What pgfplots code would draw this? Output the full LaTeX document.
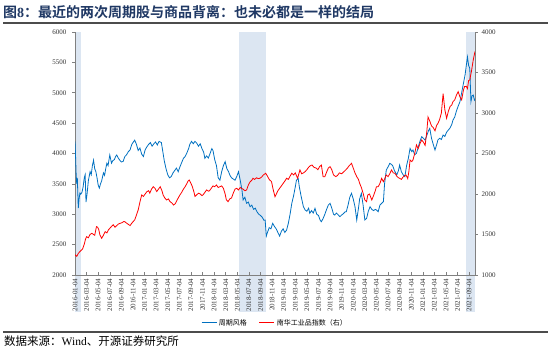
\documentclass[border=0pt]{standalone}
\usepackage{pgfplots}
\pgfplotsset{compat=1.18}
\usepackage{fontspec}
\setmainfont{Liberation Serif}
\newfontfamily\cjk{Noto Sans CJK SC}[BoldFont={Noto Sans CJK SC Bold}]
\definecolor{serblue}{RGB}{0,112,192}
\definecolor{serred}{RGB}{255,0,0}
\definecolor{bandcol}{RGB}{220,230,242}
\definecolor{titleblue}{RGB}{31,56,100}
\definecolor{axgray}{RGB}{128,128,128}
\begin{document}
\begin{tikzpicture}[x=1pt,y=1pt]
\path[use as bounding box] (0,0) rectangle (550,352);
% shaded periods
\begin{axis}[at={(75pt,77pt)},anchor=south west,scale only axis,width=400pt,height=243pt,
  xmin=0,xmax=69,ymin=2000,ymax=6000,axis lines=none,clip=false]
\addplot[fill=bandcol,draw=none] coordinates {(0,1390) (1.0,1390) (1.0,6000) (0,6000)} -- cycle;
\addplot[fill=bandcol,draw=none] coordinates {(28.3,1390) (32.9,1390) (32.9,6000) (28.3,6000)} -- cycle;
\addplot[fill=bandcol,draw=none] coordinates {(67.4,1390) (69,1390) (69,6000) (67.4,6000)} -- cycle;
\end{axis}
% left axis: cyclical style
\begin{axis}[at={(75pt,77pt)},anchor=south west,scale only axis,width=400pt,height=243pt,
  xmin=0,xmax=69,ymin=2000,ymax=6000,
  axis x line*=bottom, axis y line*=left,
  axis line style={draw=axgray,line width=0.6pt},
  every tick/.style={draw=axgray,line width=0.5pt},
  major tick length=3pt, xtick align=inside, ytick align=outside,
  xtick={0,2,...,68},
  xticklabels={2016-01-04,2016-03-04,2016-05-04,2016-07-04,2016-09-04,2016-11-04,
    2017-01-04,2017-03-04,2017-05-04,2017-07-04,2017-09-04,2017-11-04,
    2018-01-04,2018-03-04,2018-05-04,2018-07-04,2018-09-04,2018-11-04,
    2019-01-04,2019-03-04,2019-05-04,2019-07-04,2019-09-04,2019-11-04,
    2020-01-04,2020-03-04,2020-05-04,2020-07-04,2020-09-04,2020-11-04,
    2021-01-04,2021-03-04,2021-05-04,2021-07-04,2021-09-04},
  x tick label style={rotate=90,anchor=east,font=\fontsize{7}{8}\selectfont,text=black!80},
  ytick={2000,2500,...,6000},
  y tick label style={font=\fontsize{7}{8}\selectfont,text=black!80,xshift=-2pt},
  scaled y ticks=false,
  /pgf/number format/assume math mode=true,
  /pgf/number format/1000 sep={},
]
\addplot[serblue,line width=0.8pt] coordinates {
(0.0,4200) (0.1,3950) (0.2,3650) (0.3,3500) (0.4,3600) (0.5,3300) (0.57,3100) (0.7,3250) (0.85,3350)
(1.0,3330) (1.2,3360) (1.4,3450) (1.6,3600) (1.75,3650) (1.9,3200) (2.1,3350) (2.3,3550) (2.6,3700)
(2.8,3650) (3.0,3800) (3.2,3890) (3.4,3750) (3.6,3700) (3.8,3600) (4.0,3480) (4.2,3430) (4.4,3500)
(4.6,3550) (4.9,3680) (5.1,3640) (5.3,3750) (5.5,3840) (5.7,3800) (6.0,3975) (6.3,3840) (6.5,3880)
(6.8,3900) (7.0,3950) (7.2,3975) (7.5,3920) (7.8,3880) (8.0,3860) (8.3,3870) (8.6,3950) (8.9,3980)
(9.2,4030) (9.5,4060) (9.8,4150) (10.0,4180) (10.3,4220) (10.6,4150) (10.9,4050) (11.2,4090) (11.5,3990)
(11.8,3950) (12.1,4060) (12.4,4110) (12.7,4150) (13.0,4180) (13.3,4120) (13.6,4160) (13.9,4190) (14.2,4140)
(14.5,4200) (14.9,4180) (15.2,4000) (15.4,3880) (15.7,3750) (16.0,3650) (16.3,3600) (16.6,3620) (16.9,3680)
(17.2,3720) (17.5,3760) (17.8,3700) (18.1,3780) (18.4,3850) (18.7,3920) (19.0,3950) (19.3,4010) (19.6,4080)
(19.8,4150) (20.1,4200) (20.4,4160) (20.7,4200) (21.0,4170) (21.3,4120) (21.6,4160) (21.9,4080) (22.2,4020)
(22.4,3920) (22.7,3960) (23.0,3925) (23.3,4000) (23.6,4080) (23.8,4050) (24.1,3900) (24.4,3800) (24.7,3600)
(25.0,3560) (25.3,3700) (25.6,3800) (25.9,3865) (26.2,3750) (26.5,3700) (26.7,3646) (27.0,3600) (27.3,3580)
(27.6,3560) (27.9,3620) (28.2,3700) (28.5,3560) (28.8,3400) (29.0,3235) (29.3,3280) (29.6,3180) (29.9,3200)
(30.2,3124) (30.5,3150) (30.8,3080) (31.1,3100) (31.4,3040) (31.7,3000) (32.0,2980) (32.3,2950) (32.6,2900)
(32.8,2905) (33.0,2640) (33.2,2700) (33.5,2780) (33.8,2760) (34.1,2850) (34.4,2800) (34.7,2760) (35.0,2700)
(35.3,2640) (35.6,2720) (35.9,2760) (36.2,2700) (36.5,2740) (36.8,2850) (37.1,3000) (37.4,3180) (37.7,3300)
(38.0,3450) (38.2,3560) (38.5,3590) (38.7,3450) (39.0,3300) (39.4,3124) (39.7,3070) (40.0,3050) (40.3,3100)
(40.5,3015) (40.8,3060) (41.1,3020) (41.4,3097) (41.7,3000) (42.0,2980) (42.3,2900) (42.5,2877) (42.8,2930)
(43.1,3000) (43.4,3080) (43.7,3152) (44.0,3180) (44.3,3100) (44.6,3000) (44.8,2987) (45.1,3020) (45.4,2990)
(45.7,2960) (46.0,2987) (46.3,3010) (46.6,3040) (46.8,3042) (47.1,3150) (47.4,3280) (47.7,3344) (48.0,3250)
(48.3,3124) (48.6,2905) (48.9,3100) (49.1,3250) (49.4,3344) (49.7,3150) (50.0,2905) (50.3,2932) (50.6,3050)
(50.9,3124) (51.2,3080) (51.5,3060) (51.8,3080) (52.0,3070) (52.3,3042) (52.6,3150) (52.9,3180) (53.2,3207)
(53.4,3500) (53.7,3728) (54.0,3780) (54.3,3838) (54.6,3820) (54.8,3800) (55.1,3720) (55.5,3646) (55.8,3720)
(56.0,3810) (56.3,3700) (56.6,3650) (56.9,3618) (57.2,3800) (57.5,3920) (57.8,4085) (58.1,4030) (58.3,4057)
(58.6,3980) (58.9,4003) (59.2,4100) (59.5,4200) (59.8,4276) (60.1,4250) (60.4,4220) (60.7,4300) (61.0,4380)
(61.2,4414) (61.5,4250) (61.8,4150) (62.1,4057) (62.4,4150) (62.6,4222) (62.9,4250) (63.2,4230) (63.5,4304)
(63.8,4280) (64.1,4350) (64.4,4386) (64.7,4420) (65.0,4480) (65.2,4550) (65.5,4600) (65.8,4700) (66.1,4780)
(66.4,4850) (66.7,5000) (67.0,5150) (67.3,5300) (67.5,5450) (67.7,5590) (67.9,5450) (68.1,5403) (68.3,4853)
(68.5,4950) (68.7,4963) (68.9,4880) (69.0,4900)
};
\end{axis}
% right axis: Nanhua industrial index
\begin{axis}[at={(75pt,77pt)},anchor=south west,scale only axis,width=400pt,height=243pt,
  xmin=0,xmax=69,ymin=1000,ymax=4000,
  axis x line=none, axis y line*=right,
  axis line style={draw=axgray,line width=0.6pt},
  every tick/.style={draw=axgray,line width=0.5pt},
  major tick length=3pt, ytick align=outside,
  ytick={1000,1500,...,4000},
  y tick label style={font=\fontsize{7}{8}\selectfont,text=black!80},
  scaled y ticks=false,
  /pgf/number format/assume math mode=true,
  /pgf/number format/1000 sep={},
  legend style={draw=none,fill=none,at={(0.5,-0.197)},anchor=center,
    font=\cjk\fontsize{7}{8}\selectfont,
    /tikz/every even column/.append style={column sep=10pt}},
  legend columns=2,
  legend image code/.code={\draw[#1,line width=0.9pt] (0pt,0pt) -- (15pt,0pt);},
]
\addlegendimage{serblue}
\addlegendentry{周期风格}
\addplot[serred,line width=0.8pt] coordinates {
(0.0,1250) (0.3,1230) (0.6,1270) (1.0,1300) (1.3,1320) (1.6,1380) (1.8,1440) (2.0,1473) (2.3,1460)
(2.6,1500) (2.9,1515) (3.2,1500) (3.4,1490) (3.7,1597) (3.9,1590) (4.1,1560) (4.3,1494) (4.6,1453)
(4.9,1490) (5.2,1535) (5.5,1520) (5.8,1560) (6.0,1576) (6.3,1600) (6.6,1620) (6.9,1590) (7.2,1610)
(7.5,1630) (7.8,1638) (8.1,1645) (8.4,1660) (8.6,1658) (8.9,1640) (9.2,1625) (9.5,1610) (9.8,1640)
(10.1,1665) (10.3,1680) (10.6,1740) (10.9,1803) (11.2,1900) (11.5,1988) (11.8,1970) (12.1,2000) (12.4,2029)
(12.7,2040) (12.9,2010) (13.2,2060) (13.5,2090) (13.8,2070) (14.1,2030) (14.4,2060) (14.7,2090) (15.0,2040)
(15.2,1988) (15.5,1950) (15.8,1926) (16.1,1940) (16.4,1905) (16.7,1890) (17.0,1864) (17.3,1880) (17.5,1910)
(17.8,1950) (18.1,1988) (18.4,2020) (18.7,2060) (19.0,2090) (19.3,2130) (19.5,2160) (19.7,2173) (20.0,2130)
(20.2,2100) (20.5,2030) (20.7,1970) (21.0,1990) (21.3,2010) (21.6,2000) (21.9,1980) (22.1,1990) (22.4,2020)
(22.7,2050) (23.0,2035) (23.2,2040) (23.5,2070) (23.8,2100) (24.1,2090) (24.4,2111) (24.7,2080) (25.0,2090)
(25.3,2100) (25.6,2070) (25.9,2000) (26.1,1930) (26.4,1905) (26.7,1940) (27.0,1950) (27.3,2010) (27.6,2060)
(27.9,2070) (28.2,2050) (28.5,2080) (28.7,2070) (29.0,2060) (29.3,2040) (29.6,2050) (29.9,2110) (30.2,2150)
(30.5,2170) (30.7,2194) (31.0,2180) (31.3,2200) (31.6,2190) (31.9,2194) (32.2,2210) (32.5,2235) (32.9,2256)
(33.2,2220) (33.5,2180) (33.9,2152) (34.2,2050) (34.5,1967) (34.8,2010) (35.0,2040) (35.3,2070) (35.6,2100)
(35.9,2130) (36.2,2160) (36.5,2194) (36.8,2180) (37.1,2220) (37.4,2256) (37.7,2235) (38.0,2260) (38.4,2194)
(38.8,2297) (39.1,2250) (39.4,2260) (39.7,2276) (40.0,2300) (40.3,2330) (40.6,2350) (40.9,2358) (41.2,2330)
(41.6,2320) (41.9,2300) (42.2,2338) (42.5,2358) (42.8,2214) (43.1,2214) (43.4,2270) (43.7,2320) (44.0,2338)
(44.3,2300) (44.6,2235) (45.0,2214) (45.3,2230) (45.6,2260) (46.0,2250) (46.3,2270) (46.6,2290) (47.0,2320)
(47.3,2350) (47.7,2379) (48.0,2320) (48.3,2260) (48.6,2214) (48.9,2180) (49.1,2132) (49.4,2080) (49.7,2009)
(50.0,1926) (50.3,1905) (50.5,1988) (50.8,2000) (51.2,1926) (51.5,1980) (51.8,2040) (52.0,2090) (52.3,2090)
(52.6,2130) (52.9,2194) (53.2,2152) (53.5,2200) (53.7,2235) (54.0,2214) (54.3,2250) (54.6,2297) (54.9,2260)
(55.2,2256) (55.5,2220) (55.8,2200) (56.0,2194) (56.3,2180) (56.6,2210) (56.9,2230) (57.1,2235) (57.4,2190)
(57.6,2280) (57.8,2420) (58.1,2400) (58.3,2420) (58.6,2500) (58.9,2605) (59.2,2560) (59.5,2620) (59.8,2667)
(60.1,2640) (60.4,2600) (60.7,2780) (60.9,2950) (61.2,2900) (61.5,2840) (61.8,2820) (62.1,2780) (62.4,2850)
(62.6,2870) (62.9,2920) (63.2,3000) (63.5,3240) (63.8,3040) (64.1,2935) (64.4,3020) (64.7,3079) (65.0,3100)
(65.2,3140) (65.5,3161) (65.8,3220) (66.1,3264) (66.4,3200) (66.7,3161) (67.0,3280) (67.2,3326) (67.5,3330)
(67.7,3300) (67.9,3400) (68.1,3408) (68.4,3520) (68.7,3655) (69.0,3760)
};
\addlegendentry{南华工业品指数（右）}
\end{axis}
% title, rules and source
\node[anchor=west,inner sep=0,font=\fontsize{14}{16}\selectfont,text=titleblue] at (3,340)
  {{\cjk\bfseries 图}\textbf{8}{\cjk\bfseries ：最近的两次周期股与商品背离：也未必都是一样的结局}};
\draw[line width=1.8pt,draw=black!70] (3,329) -- (548,329);
\draw[line width=1.4pt,draw=black!70] (3,20) -- (548,20);
\node[anchor=west,inner sep=0,font=\fontsize{11.5}{13}\selectfont] at (4,11)
  {{\cjk 数据来源：}Wind{\cjk 、开源证券研究所}};
\end{tikzpicture}
\end{document}
